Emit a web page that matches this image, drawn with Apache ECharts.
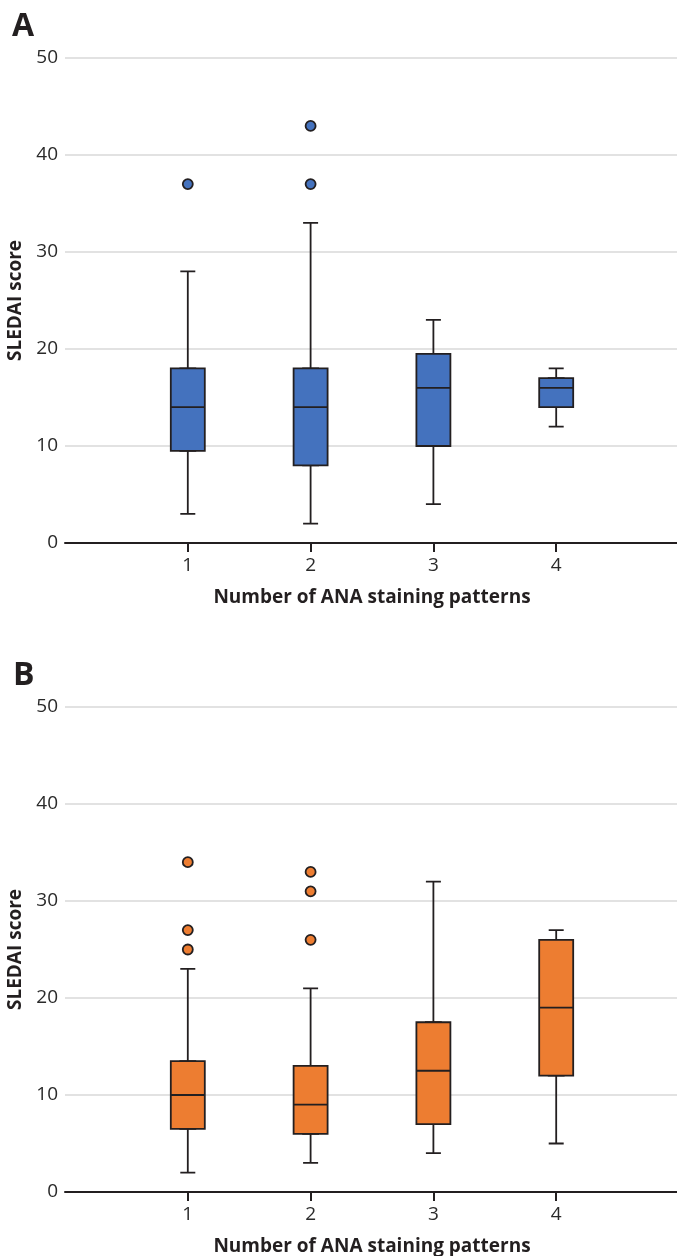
<!DOCTYPE html>
<html>
<head>
<meta charset="utf-8">
<script src="https://cdn.jsdelivr.net/npm/echarts@6/dist/echarts.min.js"></script>
<style>html,body{margin:0;padding:0;background:#fff}#c{width:677px;height:1256px}</style>
</head>
<body>
<div id="c"></div>
<script>
// Category axis: blank slots at both ends so the axis spans 0..5
const categories = ['', '1', '2', '3', '4', ''];
const yTicks = [0, 10, 20, 30, 40, 50];

// Panel A (index refers to category position)
const idxA = [1, 2, 3, 4];
const lowA = [3, 2, 4, 12];
const q1A = [9.5, 8, 10, 14];
const medA = [14, 14, 16, 16];
const q3A = [18, 18, 19.5, 17];
const highA = [28, 33, 23, 18];
const outliersA = [[1, 37], [2, 43], [2, 37]];

// Panel B
const idxB = [1, 2, 3, 4];
const lowB = [2, 3, 4, 5];
const q1B = [6.5, 6, 7, 12];
const medB = [10, 9, 12.5, 19];
const q3B = [13.5, 13, 17.5, 26];
const highB = [23, 21, 32, 27];
const outliersB = [[1, 34], [1, 27], [1, 25], [2, 33], [2, 31], [2, 26]];

const BLUE = '#4472BE';
const ORANGE = '#ED7D31';
const DARK = '#231f20';
const FONT = 'Open Sans';

function whiskerRows(idx, lo, q1, md, q3, hi) {
  return idx.map((x, i) => [x, lo[i], q1[i], md[i], q3[i], hi[i]]);
}
function boxRows(idx, q1, md, q3) {
  return idx.map((x, i) => [x, q1[i], q1[i], md[i], q3[i], q3[i]]);
}

function xAxisDef(gridIndex, visible) {
  return {
    type: 'category', gridIndex, data: categories, boundaryGap: false,
    show: visible,
    name: visible ? 'Number of ANA staining patterns' : '',
    nameLocation: 'middle', nameGap: 45,
    nameTextStyle: { fontFamily: FONT, fontWeight: 'bold', fontSize: 19, color: DARK },
    axisLine: { show: visible, lineStyle: { color: DARK, width: 2 } },
    axisTick: { show: visible, length: 9, lineStyle: { color: DARK, width: 2 },
      interval: (i, v) => v !== '' },
    axisLabel: { show: visible, interval: 0, margin: 13, fontFamily: FONT, fontSize: 19, color: '#2a2a2a' },
    splitLine: { show: false }
  };
}
function yAxisDef(gridIndex) {
  return {
    type: 'value', gridIndex, min: yTicks[0], max: yTicks[yTicks.length - 1], interval: 10,
    name: 'SLEDAI score', nameLocation: 'middle', nameGap: 37,
    nameTextStyle: { fontFamily: FONT, fontWeight: 'bold', fontSize: 19, color: DARK },
    axisLine: { show: false }, axisTick: { show: false },
    axisLabel: { margin: 7, fontFamily: FONT, fontSize: 19, color: '#2a2a2a' },
    splitLine: { lineStyle: { color: '#d9d9d9', width: 1.5 } }
  };
}

function panelSeries(xVis, xHid, yIdx, color, idx, lo, q1, md, q3, hi, outs) {
  const style = { color: color, borderColor: DARK, borderWidth: 1.8 };
  return [
    {
      type: 'boxplot', xAxisIndex: xHid, yAxisIndex: yIdx,
      boxWidth: [15, 15], encode: { x: 0, y: [1, 2, 3, 4, 5] },
      itemStyle: style, data: whiskerRows(idx, lo, q1, md, q3, hi), silent: true, z: 2
    },
    {
      type: 'boxplot', xAxisIndex: xVis, yAxisIndex: yIdx,
      boxWidth: [34, 34], encode: { x: 0, y: [1, 2, 3, 4, 5] },
      itemStyle: style, data: boxRows(idx, q1, md, q3), silent: true, z: 3
    },
    {
      type: 'scatter', xAxisIndex: xVis, yAxisIndex: yIdx, symbol: 'circle', symbolSize: 10,
      itemStyle: { color: color, borderColor: DARK, borderWidth: 1.8, opacity: 1 }, data: outs, z: 4
    }
  ];
}

const chart = echarts.init(document.getElementById('c'), null, { renderer: 'canvas' });
chart.setOption({
  animation: false,
  backgroundColor: '#fff',
  title: [
    { text: 'A', left: 7, top: 6, textStyle: { fontFamily: FONT, fontWeight: 'bold', fontSize: 32, color: DARK } },
    { text: 'B', left: 8, top: 655, textStyle: { fontFamily: FONT, fontWeight: 'bold', fontSize: 32, color: DARK } }
  ],
  grid: [
    { left: 65, top: 58, width: 614, height: 485, outerBoundsMode: 'none', containLabel: false },
    { left: 65, top: 707, width: 614, height: 485, outerBoundsMode: 'none', containLabel: false }
  ],
  xAxis: [xAxisDef(0, true), xAxisDef(0, false), xAxisDef(1, true), xAxisDef(1, false)],
  yAxis: [yAxisDef(0), yAxisDef(1)],
  series: [].concat(
    panelSeries(0, 1, 0, BLUE, idxA, lowA, q1A, medA, q3A, highA, outliersA),
    panelSeries(2, 3, 1, ORANGE, idxB, lowB, q1B, medB, q3B, highB, outliersB)
  )
});
</script>
</body>
</html>
